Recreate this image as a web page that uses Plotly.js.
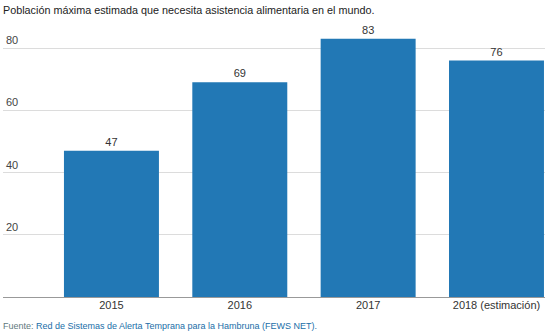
<!DOCTYPE html>
<html><head><meta charset="utf-8">
<script src="https://cdn.plot.ly/plotly-3.0.1.min.js"></script>
<style>html,body{margin:0;padding:0;background:#fff}#c{width:550px;height:332px}</style>
</head><body><div id="c"></div>
<script>
const categories = ["2015", "2016", "2017", "2018 (estimación)"];
const values = [47, 69, 83, 76];
const yTicks = [20, 40, 60, 80];
const titleText = "Población máxima estimada que necesita asistencia alimentaria en el mundo.";
const sourceLabel = "Fuente: ";
const sourceText = "Red de Sistemas de Alerta Temprana para la Hambruna (FEWS NET).";

const FONT = "Arial, 'Liberation Sans', sans-serif";
const xIdx = categories.map((c, i) => i);

Plotly.newPlot("c", [{
  type: "bar",
  x: xIdx,
  y: values,
  width: 0.74,
  marker: {color: "#2278b5"},
  text: values.map(String),
  textposition: "outside",
  textfont: {family: FONT, size: 11, color: "#333"},
  cliponaxis: false,
  hoverinfo: "none"
}], {
  width: 550, height: 332,
  margin: {l: 3, r: 5, t: 30, b: 35},
  paper_bgcolor: "#fff", plot_bgcolor: "#fff",
  showlegend: false,
  font: {family: FONT, size: 11, color: "#444"},
  xaxis: {
    range: [-0.845, 3.378],
    tickvals: xIdx, ticktext: categories,
    showgrid: false, zeroline: false,
    showline: false, ticks: "",
    tickfont: {family: FONT, size: 11, color: "#333"}
  },
  yaxis: {
    range: [0, 85.8],
    tickvals: yTicks,
    ticktext: yTicks.map(String),
    ticklabelposition: "inside top",
    showgrid: true, gridcolor: "#dcdcdc", gridwidth: 1,
    zeroline: true, zerolinecolor: "#999", zerolinewidth: 1,
    ticks: "",
    tickfont: {family: FONT, size: 11, color: "#444"}
  },
  annotations: [
    {xref: "paper", yref: "paper", x: -0.004, y: 1, yshift: 28, xanchor: "left", yanchor: "top",
     text: titleText, showarrow: false, font: {family: FONT, size: 10.8, color: "#222"}},
    {xref: "paper", yref: "paper", x: -0.004, y: 0, yshift: -22, xanchor: "left", yanchor: "top",
     text: "<span style='color:#5f7a80'>" + sourceLabel + "</span><span style='color:#1a6ea8'>" + sourceText + "</span>",
     showarrow: false, font: {family: FONT, size: 9, color: "#666"}}
  ]
}, {displayModeBar: false, staticPlot: true});
</script>
</body></html>
